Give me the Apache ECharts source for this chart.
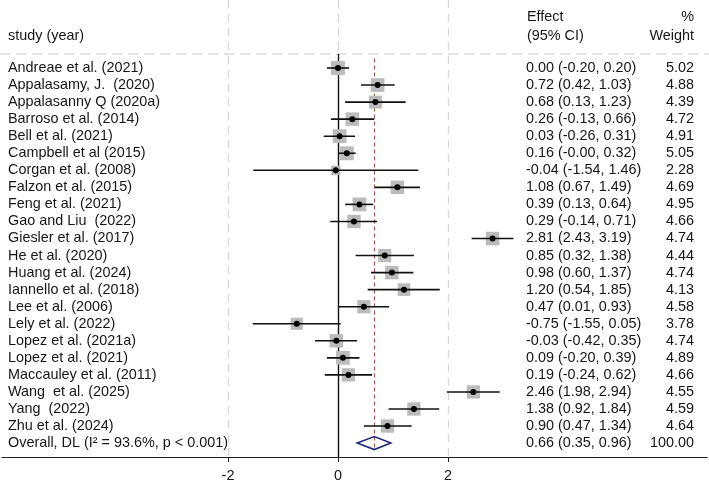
<!DOCTYPE html>
<html>
<head>
<meta charset="utf-8">
<script src="https://cdn.jsdelivr.net/npm/echarts@6/dist/echarts.min.js"></script>
<style>
  html, body { margin: 0; padding: 0; background: #fff; }
  #chart { width: 709px; height: 484px; }
</style>
</head>
<body>
<div id="chart"></div>
<script>
const studies = [
  'Andreae et al. (2021)', 'Appalasamy, J.  (2020)', 'Appalasanny Q (2020a)', 'Barroso et al. (2014)',
  'Bell et al. (2021)', 'Campbell et al (2015)', 'Corgan et al. (2008)', 'Falzon et al. (2015)',
  'Feng et al. (2021)', 'Gao and Liu  (2022)', 'Giesler et al. (2017)', 'He et al. (2020)',
  'Huang et al. (2024)', 'Iannello et al. (2018)', 'Lee et al. (2006)', 'Lely et al. (2022)',
  'Lopez et al. (2021a)', 'Lopez et al. (2021)', 'Maccauley et al. (2011)', 'Wang  et al. (2025)',
  'Yang  (2022)', 'Zhu et al. (2024)'
];
const effects = [0.00, 0.72, 0.68, 0.26, 0.03, 0.16, -0.04, 1.08, 0.39, 0.29, 2.81, 0.85, 0.98, 1.20, 0.47, -0.75, -0.03, 0.09, 0.19, 2.46, 1.38, 0.90];
const lower = [-0.20, 0.42, 0.13, -0.13, -0.26, -0.001, -1.54, 0.67, 0.13, -0.14, 2.43, 0.32, 0.60, 0.54, 0.01, -1.55, -0.42, -0.20, -0.24, 1.98, 0.92, 0.47];
const upper = [0.20, 1.03, 1.23, 0.66, 0.31, 0.32, 1.46, 1.49, 0.64, 0.71, 3.19, 1.38, 1.37, 1.85, 0.93, 0.05, 0.35, 0.39, 0.62, 2.94, 1.84, 1.34];
const weights = [5.02, 4.88, 4.39, 4.72, 4.91, 5.05, 2.28, 4.69, 4.95, 4.66, 4.74, 4.44, 4.74, 4.13, 4.58, 3.78, 4.74, 4.89, 4.66, 4.55, 4.59, 4.64];
const overallLabel = 'Overall, DL (I\u00B2 = 93.6%, p < 0.001)';
const overall = { est: 0.66, lo: 0.35, hi: 0.96, weight: 100.00 };
const xTicks = [-2, 0, 2];

// layout
const W = 709, H = 484;
const zeroPx = 338, pxPerUnit = 55;
const axisY = 457, rowPx = 17.05, firstRowY = 68;
const textColor = '#161616';
const font = '"Liberation Sans", Arial, Helvetica, sans-serif';
const fontSize = 14.4;

const xMin = -(zeroPx - 2) / pxPerUnit;
const xMax = (W - 2 - zeroPx) / pxPerUnit;
const yMin = -firstRowY / rowPx;
const yMax = yMin + axisY / rowPx;
const overallRow = studies.length;

const fmt = v => v.toFixed(2);
const ciText = (e, l, u) => `${fmt(e)} (${fmt(l)}, ${fmt(u)})`;

const studyData = studies.map((s, i) => [effects[i], i, lower[i], upper[i], weights[i]]);

function textEl(x, y, str, align) {
  return {
    type: 'text',
    style: { x, y, text: str, fill: textColor, font: `${fontSize}px ${font}`, textAlign: align || 'left', textVerticalAlign: 'middle' }
  };
}

function renderStudy(params, api) {
  const i = params.dataIndex;
  const row = api.value(1);
  const c = api.coord([api.value(0), row]);
  const l = api.coord([api.value(2), row]);
  const h = api.coord([api.value(3), row]);
  const side = Math.sqrt(api.value(4)) * 6.2;
  return {
    type: 'group',
    children: [
      { type: 'rect', shape: { x: c[0] - side / 2, y: c[1] - side / 2, width: side, height: side }, style: { fill: '#bbbbbb' } },
      { type: 'line', shape: { x1: l[0], y1: l[1], x2: h[0], y2: h[1] }, style: { stroke: '#111', lineWidth: 1.6 } },
      { type: 'circle', shape: { cx: c[0], cy: c[1], r: 3 }, style: { fill: '#000' } },
      textEl(8, c[1], studies[i]),
      textEl(526, c[1], ciText(effects[i], lower[i], upper[i])),
      textEl(694, c[1], fmt(weights[i]), 'right')
    ]
  };
}

function renderOverall(params, api) {
  const row = api.value(1);
  const c = api.coord([api.value(0), row]);
  const l = api.coord([api.value(2), row]);
  const h = api.coord([api.value(3), row]);
  const half = 6.5;
  return {
    type: 'group',
    children: [
      { type: 'polygon', shape: { points: [[l[0], c[1]], [c[0], c[1] - half], [h[0], c[1]], [c[0], c[1] + half]] },
        style: { fill: 'none', stroke: '#1f2a78', lineWidth: 1.6 } },
      textEl(8, c[1], overallLabel),
      textEl(526, c[1], ciText(overall.est, overall.lo, overall.hi)),
      textEl(694, c[1], fmt(overall.weight), 'right')
    ]
  };
}

const headerLineRow = yMin + 54 / rowPx;
const headStyle = str => ({ text: str, fill: textColor, font: `${fontSize}px ${font}` });
const chart = echarts.init(document.getElementById('chart'));
chart.setOption({
  animation: false,
  backgroundColor: '#fff',
  grid: { left: 2, right: 2, top: 0, bottom: H - axisY },
  xAxis: {
    type: 'value', min: xMin, max: xMax,
    axisLine: { onZero: false, lineStyle: { color: '#222', width: 1.2 } },
    axisTick: { customValues: xTicks, length: 5, lineStyle: { color: '#222' } },
    axisLabel: { customValues: xTicks, color: textColor, fontSize: fontSize, fontFamily: font, margin: 12 },
    splitLine: { show: false }
  },
  yAxis: { type: 'value', inverse: true, min: yMin, max: yMax, show: false },
  graphic: [
    { type: 'line', shape: { x1: 0, y1: 54, x2: W, y2: 54 }, style: { stroke: '#c8c8c8', lineWidth: 1.2, lineDash: [10, 6] }, z: 0 },
    { type: 'text', left: 8, top: 29, style: headStyle('study (year)') },
    { type: 'text', left: 527, top: 10, style: headStyle('Effect') },
    { type: 'text', left: 527, top: 29, style: headStyle('(95% CI)') },
    { type: 'text', right: 15, top: 10, style: headStyle('%') },
    { type: 'text', right: 15, top: 29, style: headStyle('Weight') }
  ],
  series: [
    {
      type: 'line', data: [], silent: true,
      markLine: {
        symbol: 'none', silent: true, label: { show: false },
        data: [
          [{ coord: [-2, yMin] }, { coord: [-2, yMax] }],
          [{ coord: [2, yMin] }, { coord: [2, yMax] }],
          [{ coord: [0, yMin] }, { coord: [0, headerLineRow] }]
        ],
        lineStyle: { color: '#d6d6d6', type: [8, 6], width: 1.2 }
      }
    },
    {
      type: 'line', data: [], silent: true,
      markLine: {
        symbol: 'none', silent: true, label: { show: false },
        data: [[{ coord: [0, headerLineRow] }, { coord: [0, yMax] }]],
        lineStyle: { color: '#111', type: 'solid', width: 1.4 }
      }
    },
    {
      type: 'line', data: [], silent: true,
      markLine: {
        symbol: 'none', silent: true, label: { show: false },
        data: [[{ coord: [overall.est, -0.55] }, { coord: [overall.est, overallRow + 0.4] }]],
        lineStyle: { color: '#9c5a4e', type: [4, 3], width: 1.2 }
      }
    },
    { type: 'custom', renderItem: renderStudy, data: studyData, clip: false, z: 5 },
    { type: 'custom', renderItem: renderOverall, data: [[overall.est, overallRow, overall.lo, overall.hi]], clip: false, z: 5 }
  ]
});
</script>
</body>
</html>
